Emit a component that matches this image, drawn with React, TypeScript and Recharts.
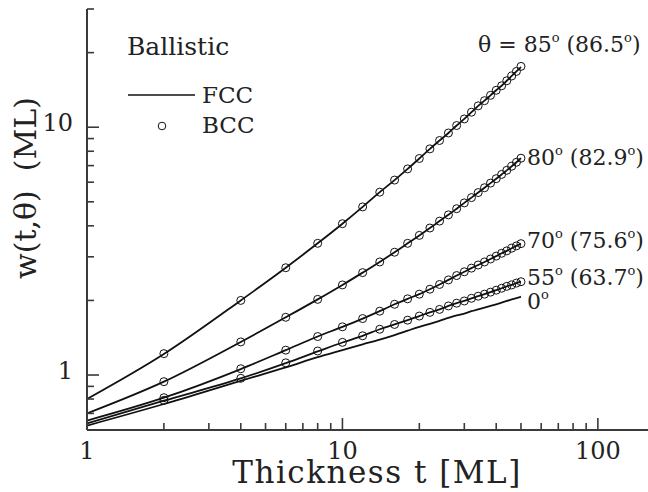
import React from 'react';
import { ComposedChart, Line, XAxis, YAxis } from 'recharts';

// film thickness t [ML]
const thickness = [1, 2, 4, 6, 8, 10, 12, 14, 16, 18, 20, 22, 24, 26, 28, 30, 32, 34, 36, 38, 40, 42, 44, 46, 48, 50];

// FCC widths w(t, theta) [ML], one per thickness
const fcc85 = [0.8, 1.215, 2.0, 2.71, 3.4, 4.08, 4.77, 5.47, 6.12, 6.79, 7.48, 8.18, 8.84, 9.48, 10.16, 10.8, 11.5, 12.2, 12.8, 13.45, 14.1, 14.7, 15.4, 16.1, 16.8, 17.5];
const fcc80 = [0.7, 0.94, 1.36, 1.71, 2.02, 2.31, 2.59, 2.86, 3.13, 3.4, 3.66, 3.92, 4.18, 4.43, 4.69, 4.95, 5.2, 5.45, 5.7, 5.95, 6.2, 6.45, 6.7, 6.96, 7.22, 7.5];
const fcc70 = [0.655, 0.81, 1.057, 1.26, 1.43, 1.565, 1.69, 1.81, 1.93, 2.03, 2.12, 2.22, 2.32, 2.42, 2.52, 2.61, 2.7, 2.78, 2.86, 2.94, 3.02, 3.1, 3.17, 3.25, 3.32, 3.39];
const fcc55 = [0.638, 0.788, 0.969, 1.117, 1.245, 1.353, 1.44, 1.53, 1.6, 1.665, 1.73, 1.79, 1.84, 1.9, 1.95, 1.99, 2.04, 2.08, 2.12, 2.16, 2.2, 2.24, 2.28, 2.31, 2.35, 2.38];
const fcc0 = [0.625, 0.764, 0.948, 1.073, 1.18, 1.26, 1.33, 1.39, 1.45, 1.51, 1.565, 1.61, 1.655, 1.7, 1.74, 1.77, 1.81, 1.84, 1.87, 1.9, 1.93, 1.96, 1.99, 2.02, 2.045, 2.07];

// BCC widths, from t = 2 onwards
const bcc85 = [1.22, 2.0, 2.71, 3.4, 4.08, 4.77, 5.47, 6.12, 6.79, 7.48, 8.18, 8.84, 9.48, 10.16, 10.8, 11.5, 12.2, 12.8, 13.45, 14.1, 14.7, 15.4, 16.1, 16.8, 17.6];
const bcc80 = [0.94, 1.36, 1.71, 2.02, 2.31, 2.59, 2.86, 3.13, 3.4, 3.66, 3.92, 4.18, 4.43, 4.69, 4.95, 5.2, 5.45, 5.7, 5.95, 6.2, 6.45, 6.7, 6.96, 7.22, 7.5];
const bcc70 = [0.81, 1.06, 1.26, 1.43, 1.565, 1.69, 1.81, 1.93, 2.03, 2.12, 2.22, 2.32, 2.42, 2.52, 2.61, 2.7, 2.78, 2.86, 2.94, 3.02, 3.1, 3.17, 3.25, 3.32, 3.39];
const bcc55 = [0.79, 0.97, 1.12, 1.25, 1.355, 1.44, 1.53, 1.6, 1.665, 1.73, 1.79, 1.84, 1.9, 1.95, 1.99, 2.04, 2.08, 2.12, 2.16, 2.2, 2.24, 2.28, 2.31, 2.35, 2.38];

const xTicks = [1, 2, 3, 4, 5, 6, 7, 8, 9, 10, 20, 30, 40, 50, 60, 70, 80, 90, 100];
const yTicks = [0.6, 0.7, 0.8, 0.9, 1, 2, 3, 4, 5, 6, 7, 8, 9, 10, 20, 30];

const rows = thickness.map((t, i) => ({
  t,
  fcc85: fcc85[i],
  fcc80: fcc80[i],
  fcc70: fcc70[i],
  fcc55: fcc55[i],
  fcc0: fcc0[i],
  bcc85: i > 0 ? bcc85[i - 1] : null,
  bcc80: i > 0 ? bcc80[i - 1] : null,
  bcc70: i > 0 ? bcc70[i - 1] : null,
  bcc55: i > 0 ? bcc55[i - 1] : null,
}));

const FONT = '"DejaVu Serif", "Liberation Serif", serif';
const FRAME = '#3a3a3a';
const INK = '#111';

const isDecade = (v: number) => Math.abs(Math.log10(v) - Math.round(Math.log10(v))) < 1e-9;

// inward tick marks, labels only on decades
function AxisTick(props: any) {
  const { x, y, payload, side } = props;
  const v = payload.value;
  const major = isDecade(v);
  const len = major ? 12 : 7;
  let line;
  let label = null;
  if (side === 'bottom') {
    line = <line x1={x} x2={x} y1={y} y2={y - len} stroke={FRAME} strokeWidth={1.6} />;
    if (major) label = <text x={x} y={y + 29} textAnchor="middle" fontSize={24} fontFamily={FONT} fill="#222">{v}</text>;
  } else if (side === 'top') {
    line = <line x1={x} x2={x} y1={y} y2={y + len} stroke={FRAME} strokeWidth={1.6} />;
  } else if (side === 'left') {
    line = <line x1={x} x2={x + len} y1={y} y2={y} stroke={FRAME} strokeWidth={1.6} />;
    if (major) label = <text x={x - 14} y={y + 4} textAnchor="end" fontSize={24} fontFamily={FONT} fill="#222">{v}</text>;
  } else {
    line = <line x1={x} x2={x - len} y1={y} y2={y} stroke={FRAME} strokeWidth={1.6} />;
  }
  return (
    <g>
      {line}
      {label}
    </g>
  );
}

// angle label with superscript "o" degree marks
function Deg({ x, y, angle, eff, prefix = '' }: { x: number; y: number; angle: string; eff?: string; prefix?: string }) {
  return (
    <text x={x} y={y} fontSize={22} fontFamily={FONT} fill="#222">
      {prefix + angle}
      <tspan dy={-10} fontSize={13}>o</tspan>
      {eff && <tspan dy={10}>{' (' + eff}</tspan>}
      {eff && <tspan dy={-10} fontSize={13}>o</tspan>}
      {eff && <tspan dy={10}>)</tspan>}
    </text>
  );
}

const line = (key: string) => (
  <Line key={key} dataKey={key} type="monotone" stroke={INK} strokeWidth={1.8} dot={false} isAnimationActive={false} />
);
const circles = (key: string) => (
  <Line
    key={key}
    dataKey={key}
    stroke="none"
    strokeWidth={0}
    dot={{ r: 4, stroke: INK, strokeWidth: 1, fill: 'none' }}
    isAnimationActive={false}
  />
);

export default function App() {
  return (
    <div style={{ position: 'fixed', left: 0, top: 0, width: 648, height: 492, overflow: 'hidden', background: '#fff' }}>
      <ComposedChart width={670} height={492} data={rows} margin={{ top: 9, right: 20, bottom: 0, left: 0 }}>
        <XAxis
          dataKey="t"
          type="number"
          scale="log"
          domain={[1, 160]}
          allowDataOverflow
          ticks={xTicks}
          interval={0}
          tickSize={0}
          tickMargin={0}
          tickLine={false}
          tick={(p: any) => <AxisTick {...p} side="bottom" />}
          axisLine={{ stroke: FRAME, strokeWidth: 2 }}
          height={62}
        />
        <XAxis
          xAxisId="top"
          orientation="top"
          dataKey="t"
          type="number"
          scale="log"
          domain={[1, 160]}
          allowDataOverflow
          ticks={xTicks}
          interval={0}
          tickSize={0}
          tickMargin={0}
          tickLine={false}
          tick={(p: any) => <AxisTick {...p} side="top" />}
          axisLine={{ stroke: FRAME, strokeWidth: 2 }}
          height={0}
        />
        <YAxis
          type="number"
          scale="log"
          domain={[0.6, 30]}
          allowDataOverflow
          ticks={yTicks}
          interval={0}
          tickSize={0}
          tickMargin={0}
          tickLine={false}
          tick={(p: any) => <AxisTick {...p} side="left" />}
          axisLine={{ stroke: FRAME, strokeWidth: 2 }}
          width={87}
        />
        <YAxis
          yAxisId="right"
          orientation="right"
          type="number"
          scale="log"
          domain={[0.6, 30]}
          allowDataOverflow
          ticks={yTicks}
          interval={0}
          tickSize={0}
          tickMargin={0}
          tickLine={false}
          tick={(p: any) => <AxisTick {...p} side="right" />}
          axisLine={{ stroke: FRAME, strokeWidth: 2 }}
          width={0}
        />
        {['fcc85', 'fcc80', 'fcc70', 'fcc55', 'fcc0'].map(line)}
        {['bcc85', 'bcc80', 'bcc70', 'bcc55'].map(circles)}
      </ComposedChart>

      <svg width={648} height={492} style={{ position: 'absolute', left: 0, top: 0, pointerEvents: 'none' }}>
        <text
          transform="translate(36, 188) rotate(-90)"
          textAnchor="middle"
          fontSize={30}
          fontFamily={FONT}
          fill="#222"
          style={{ whiteSpace: 'pre' }}
        >
          {'w(t,\u03b8)  (ML)'}
        </text>
        <text x={377} y={483} textAnchor="middle" fontSize={31} letterSpacing={1.5} fontFamily={FONT} fill="#222">
          Thickness t [ML]
        </text>

        <text x={127} y={55} fontSize={25} fontFamily={FONT} fill="#222">Ballistic</text>
        <line x1={128} x2={195} y1={95} y2={95} stroke={INK} strokeWidth={1.6} />
        <text x={202} y={103} fontSize={23} fontFamily={FONT} fill="#222">FCC</text>
        <circle cx={162} cy={126} r={3.8} stroke={INK} strokeWidth={1} fill="none" />
        <text x={202} y={133} fontSize={23} fontFamily={FONT} fill="#222">BCC</text>

        <Deg x={478} y={52} prefix={'\u03b8 = '} angle="85" eff="86.5" />
        <Deg x={527} y={165} angle="80" eff="82.9" />
        <Deg x={527} y={248} angle="70" eff="75.6" />
        <Deg x={527} y={285} angle="55" eff="63.7" />
        <Deg x={527} y={309} angle="0" />
      </svg>
    </div>
  );
}
